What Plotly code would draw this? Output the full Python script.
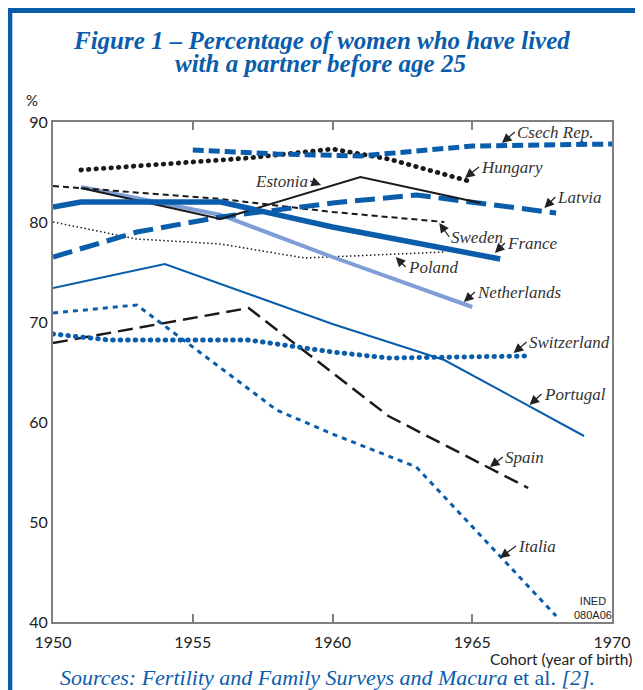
import plotly.graph_objects as go

BLUE = "#0a5dab"
LIGHT = "#7f9ed6"
BLACK = "#1a1a1a"

# ---- data (cohort year, % lived with partner before 25) ----
czech_x = [1955, 1958, 1961, 1965, 1970]
czech_y = [87.2, 86.8, 86.6, 87.6, 87.8]

hungary_x = [1951, 1954, 1957, 1960, 1962, 1965]
hungary_y = [85.2, 85.8, 86.4, 87.3, 86.3, 84.0]

estonia_x = [1951, 1956, 1961, 1965.3]
estonia_y = [83.4, 80.3, 84.5, 81.9]

latvia_x = [1950, 1953, 1956, 1960, 1963, 1968]
latvia_y = [76.5, 79.0, 80.5, 81.9, 82.7, 80.9]

sweden_x = [1950, 1956, 1960, 1964]
sweden_y = [83.6, 82.3, 81.0, 80.0]

france_x = [1950, 1951, 1956, 1960, 1966]
france_y = [81.5, 82.0, 82.0, 79.5, 76.3]

netherlands_x = [1951, 1956, 1960, 1965]
netherlands_y = [83.5, 80.7, 76.5, 71.5]

poland_x = [1950, 1953, 1956, 1959, 1964]
poland_y = [80.0, 78.3, 77.8, 76.4, 77.0]

portugal_x = [1950, 1954, 1960, 1964, 1969]
portugal_y = [73.4, 75.8, 69.8, 66.2, 58.6]

switzerland_x = [1950, 1952, 1957, 1960, 1962, 1967]
switzerland_y = [68.8, 68.2, 68.2, 67.0, 66.4, 66.6]

spain_x = [1950, 1957, 1962, 1967]
spain_y = [67.9, 71.4, 60.6, 53.4]

italia_x = [1950, 1953, 1958, 1960, 1963, 1968]
italia_y = [70.9, 71.7, 61.2, 58.8, 55.5, 40.6]

x_ticks = [1950, 1955, 1960, 1965, 1970]
y_ticks = [40, 50, 60, 70, 80, 90]

# (name, xs, ys, colour, width, dash, round-dots)
series = [
    ("Italia", italia_x, italia_y, BLUE, 3, "5px,5px", False),
    ("Spain", spain_x, spain_y, BLACK, 2.5, "15px,7px", False),
    ("Switzerland", switzerland_x, switzerland_y, BLUE, 5, "0.5px,7px", True),
    ("Portugal", portugal_x, portugal_y, BLUE, 2, "solid", False),
    ("Poland", poland_x, poland_y, BLACK, 1.5, "1.5px,2.5px", False),
    ("Netherlands", netherlands_x, netherlands_y, LIGHT, 4, "solid", False),
    ("Sweden", sweden_x, sweden_y, BLACK, 2, "6px,4px", False),
    ("Latvia", latvia_x, latvia_y, BLUE, 5, "20px,8px", False),
    ("Estonia", estonia_x, estonia_y, BLACK, 2, "solid", False),
    ("France", france_x, france_y, BLUE, 5.5, "solid", False),
    ("Hungary", hungary_x, hungary_y, BLACK, 4.8, "0.5px,7px", True),
    ("Csech Rep.", czech_x, czech_y, BLUE, 5, "11px,5px", False),
]

fig = go.Figure()
round_idx = []
for i, (name, xs, ys, col, w, dash, rnd) in enumerate(series):
    fig.add_trace(go.Scatter(x=xs, y=ys, mode="lines", name=name,
                             line=dict(color=col, width=w, dash=dash),
                             showlegend=False))
    if rnd:
        round_idx.append(i)

# label annotations: (text, tip year, tip value, ax, ay, xanchor)
labels = [
    ("Csech Rep.", 1966.06, 87.9, 13, -11, "left"),
    ("Hungary", 1964.74, 84.4, 14, -11, "left"),
    ("Estonia", 1959.59, 83.7, -11, -4, "right"),
    ("Latvia", 1967.58, 81.4, 11, -11, "left"),
    ("Sweden", 1963.82, 79.9, 10, 14, "left"),
    ("France", 1965.81, 76.9, 10, -10, "left"),
    ("Poland", 1962.26, 76.5, 10, 10, "left"),
    ("Netherlands", 1964.70, 72.0, 11, -10, "left"),
    ("Switzerland", 1966.48, 66.9, 13, -11, "left"),
    ("Portugal", 1967.05, 61.7, 12, -11, "left"),
    ("Spain", 1965.63, 55.5, 13, -10, "left"),
    ("Italia", 1965.99, 46.4, 16, -12, "left"),
]
for txt, x, y, ax, ay, xa in labels:
    fig.add_annotation(x=x, y=y, xref="x", yref="y", text="<i>%s</i>" % txt,
                       showarrow=True, arrowhead=2, arrowsize=1.6, arrowwidth=1.2,
                       arrowcolor="#222", ax=ax, ay=ay, xanchor=xa, yanchor="middle",
                       font=dict(family="Liberation Serif", size=17, color="#333"))

# page has an 8px body margin: figure is drawn offset by OFF px
OFF = 8
W, H = 643 - OFF, 690 - OFF
L, T = 53 - OFF, 122 - OFF
R = W - (616 - OFF)
B = H - (622 - OFF)
pw, ph = W - L - R, H - T - B

def px(xp):  # page pixel -> paper x
    return (xp - OFF - L) / pw

def py(yp):  # page pixel -> paper y
    return (H - B - (yp - OFF)) / ph

title_font = dict(family="Liberation Serif", size=25, color=BLUE)
fig.add_annotation(xref="paper", yref="paper", x=px(323), y=py(40), showarrow=False,
                   text="<b><i>Figure 1 – Percentage of women who have lived</i></b>",
                   font=title_font, xanchor="center", yanchor="middle")
fig.add_annotation(xref="paper", yref="paper", x=px(322), y=py(64), showarrow=False,
                   text="<b><i>with a partner before age 25</i></b>",
                   font=title_font, xanchor="center", yanchor="middle")
# percent sign
fig.add_annotation(xref="paper", yref="paper", x=px(32), y=py(100), showarrow=False,
                   text="%", font=dict(family="Lato", size=15, color="#222"),
                   xanchor="center", yanchor="middle")
# x axis title
fig.add_annotation(xref="paper", yref="paper", x=px(638), y=py(659), showarrow=False,
                   text="Cohort (year of birth)", font=dict(family="Lato", size=15.5, color="#222"),
                   xanchor="right", yanchor="middle")
# INED
fig.add_annotation(xref="paper", yref="paper", x=px(618), y=py(608), showarrow=False,
                   text="INED<br>080A06", font=dict(family="Liberation Sans", size=11, color="#222"),
                   xanchor="right", yanchor="middle", align="center")
# sources
fig.add_annotation(xref="paper", yref="paper", x=px(58), y=py(677), showarrow=False,
                   text="<i>Sources: Fertility and Family Surveys and Macura</i> et al. <i>[2].</i>",
                   font=dict(family="Liberation Serif", size=22, color=BLUE),
                   xanchor="left", yanchor="middle")

# blue frame
fig.add_shape(type="line", xref="paper", yref="paper", x0=px(9.5), x1=px(9.5),
              y0=py(8), y1=py(700), line=dict(color=BLUE, width=5))
fig.add_shape(type="line", xref="paper", yref="paper", x0=px(7), x1=px(660),
              y0=py(10.5), y1=py(10.5), line=dict(color=BLUE, width=5))

fig.update_layout(
    width=W, height=H, margin=dict(l=L, r=R, t=T, b=B),
    paper_bgcolor="white", plot_bgcolor="white",
    xaxis=dict(range=[1950, 1970], tickvals=x_ticks, ticks="inside", ticklen=8,
               tickcolor="#808080", tickwidth=1.5, showline=True, linecolor="#808080",
               linewidth=2, mirror="ticks", showgrid=False, zeroline=False,
               ticklabelstandoff=5,
               tickfont=dict(family="Lato", size=16, color="#222")),
    yaxis=dict(range=[40, 90], tickvals=y_ticks, ticks="", showline=True,
               linecolor="#808080", linewidth=2, mirror=True, showgrid=False,
               zeroline=False, ticklabelstandoff=0,
               tickfont=dict(family="Lato", size=16, color="#222")),
)

# round line caps for the dotted series so they render as round dots
post = """
(function(){
  var gd = document.getElementById('{plot_id}');
  var idx = %s;
  function fix(){
    var tr = gd.querySelectorAll('.scatterlayer .trace');
    idx.forEach(function(i){
      if (tr[i]) {
        var p = tr[i].querySelector('path.js-line');
        if (p) { p.style.strokeLinecap = 'round'; }
      }
    });
  }
  fix();
  setTimeout(fix, 30);
  if (gd.on) { gd.on('plotly_afterplot', fix); }
})();
""" % str(round_idx)

fig.write_html("out.html", post_script=post)
